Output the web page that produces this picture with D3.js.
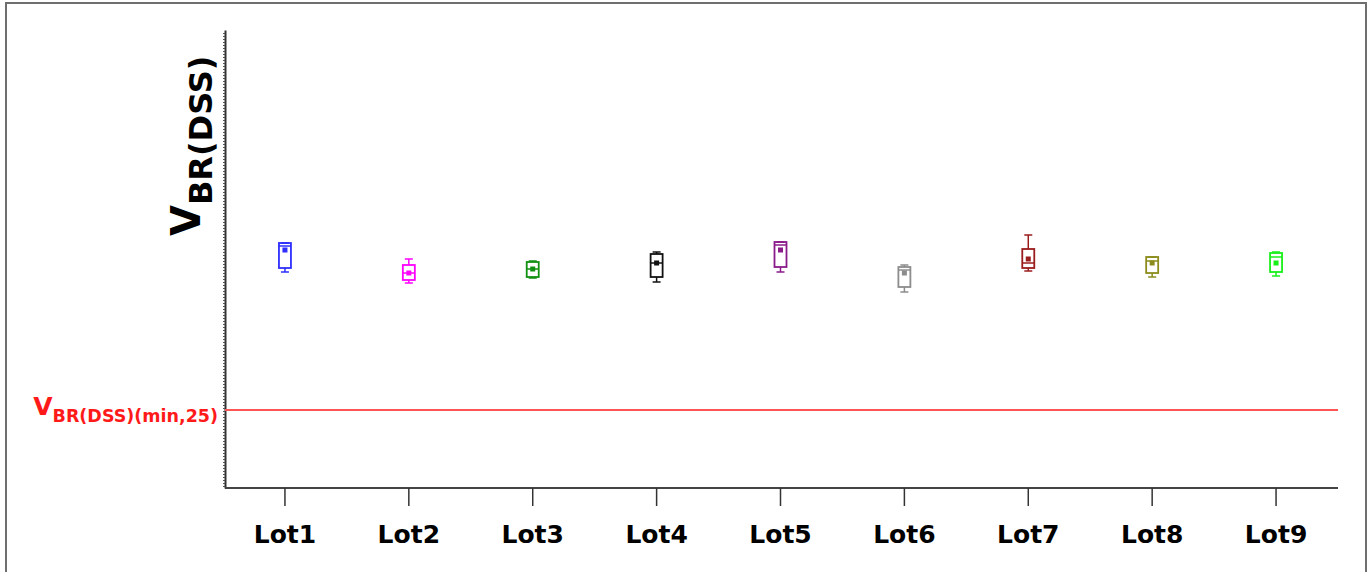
<!DOCTYPE html>
<html>
<head>
<meta charset="utf-8">
<script src="https://cdn.jsdelivr.net/npm/d3@7"></script>
<style>
  body { margin: 0; background: #fff; }
  svg { display: block; font-family: "DejaVu Sans", Verdana, sans-serif; }
</style>
</head>
<body>
<svg id="chart" width="1370" height="572"></svg>
<script>
// lots and their box statistics (volts)
var lots = ["Lot1", "Lot2", "Lot3", "Lot4", "Lot5", "Lot6", "Lot7", "Lot8", "Lot9"];
var colors = ["#2e2eff", "#ff00ff", "#109010", "#111111", "#8a1a8a", "#8c8c8c", "#9b1c1c", "#8c8c1c", "#18f018"];
var mins    = [669, 663.5, 666, 664, 669, 659, 669.5, 666.5, 667];
var q1s     = [671, 665, 666.5, 666.5, 671.5, 661.5, 671, 668.5, 669];
var medians = [682, 668.5, 670.5, 673.5, 682.5, 670, 673.5, 674.5, 676.5];
var means   = [680, 668.5, 670.5, 673.5, 680, 668.5, 675.5, 673.5, 673.5];
var q3s     = [683.5, 672.5, 674, 678, 684, 671.5, 680.5, 676.5, 678.5];
var maxs    = [683.5, 675.5, 674.5, 679, 684, 672.5, 687.5, 676.5, 679];
var vMin25 = 600;   // limit line

var svg = d3.select("#chart");

// frame
svg.append("rect")
    .attr("x", 6).attr("y", 3)
    .attr("width", 1360).attr("height", 600)
    .attr("fill", "none")
    .attr("stroke", "#6e6e6e")
    .attr("stroke-width", 2);

var x = d3.scaleBand()
    .domain(lots)
    .range([223, 1338]);

var y = d3.scaleLinear()
    .domain([561, 790])
    .range([488, 30]);

// y axis: no labels, dense minor ticks
var yAxis = svg.append("g")
    .attr("transform", "translate(225,0)")
    .call(d3.axisLeft(y)
        .tickValues(d3.range(562, 790, 1.5))
        .tickSize(2)
        .tickSizeOuter(0)
        .tickFormat(""));
yAxis.select(".domain").attr("stroke", "#333").attr("stroke-width", 2);
yAxis.selectAll(".tick line").attr("stroke", "#555");

// x axis
var xAxis = svg.append("g")
    .attr("transform", "translate(0,488)")
    .call(d3.axisBottom(x).tickSize(18).tickSizeOuter(0).tickPadding(19));
xAxis.select(".domain").attr("stroke", "#444").attr("stroke-width", 2)
    .attr("d", "M225,0H1338");
xAxis.selectAll(".tick line").attr("stroke", "#333").attr("stroke-width", 1.5);
xAxis.selectAll(".tick text")
    .attr("font-size", "25px")
    .attr("font-weight", "bold")
    .attr("fill", "#000")
    .attr("font-family", "'DejaVu Sans', Verdana, sans-serif");

// limit line
svg.append("line")
    .attr("x1", 225).attr("x2", 1338)
    .attr("y1", y(vMin25)).attr("y2", y(vMin25))
    .attr("stroke", "#ff5555")
    .attr("stroke-width", 2);

var lim = svg.append("text")
    .attr("x", 218).attr("y", y(vMin25) + 5)
    .attr("text-anchor", "end")
    .attr("fill", "#ff1a1a")
    .attr("font-weight", "bold");
lim.append("tspan").attr("font-size", "25px").text("V");
lim.append("tspan").attr("font-size", "17.5px").attr("dy", 7).text("BR(DSS)(min,25)");

// y title
var yt = svg.append("text")
    .attr("transform", "translate(200,236) rotate(-90)")
    .attr("fill", "#000")
    .attr("font-weight", "bold");
yt.append("tspan").attr("font-size", "40px").text("V");
yt.append("tspan").attr("font-size", "32px").attr("dy", 12).text("BR(DSS)");

// boxes
var boxW = 12, capW = 8;
var stats = lots.map(function(l, i) {
    return { lot: l, color: colors[i], min: mins[i], q1: q1s[i], med: medians[i],
             mean: means[i], q3: q3s[i], max: maxs[i] };
});

var g = svg.selectAll(".box")
    .data(stats)
    .enter()
    .append("g")
    .attr("class", "box")
    .attr("transform", function(d) { return "translate(" + (x(d.lot) + x.bandwidth() / 2) + ",0)"; });

g.each(function(d) {
    var s = d3.select(this);
    // whiskers
    s.append("line").attr("x1", 0).attr("x2", 0)
        .attr("y1", y(d.max)).attr("y2", y(d.q3))
        .attr("stroke", d.color).attr("stroke-width", 1.5);
    s.append("line").attr("x1", 0).attr("x2", 0)
        .attr("y1", y(d.q1)).attr("y2", y(d.min))
        .attr("stroke", d.color).attr("stroke-width", 1.5);
    [d.max, d.min].forEach(function(v) {
        s.append("line")
            .attr("x1", -capW / 2).attr("x2", capW / 2)
            .attr("y1", y(v)).attr("y2", y(v))
            .attr("stroke", d.color).attr("stroke-width", 1.5);
    });
    s.append("rect")
        .attr("x", -boxW / 2).attr("width", boxW)
        .attr("y", y(d.q3)).attr("height", y(d.q1) - y(d.q3))
        .attr("fill", "none")
        .attr("stroke", d.color).attr("stroke-width", 1.8);
    s.append("line")
        .attr("x1", -boxW / 2).attr("x2", boxW / 2)
        .attr("y1", y(d.med)).attr("y2", y(d.med))
        .attr("stroke", d.color).attr("stroke-width", 1.5);
    s.append("rect")
        .attr("x", -2.5).attr("y", y(d.mean) - 2.5)
        .attr("width", 5).attr("height", 5)
        .attr("fill", d.color);
});
</script>
</body>
</html>
